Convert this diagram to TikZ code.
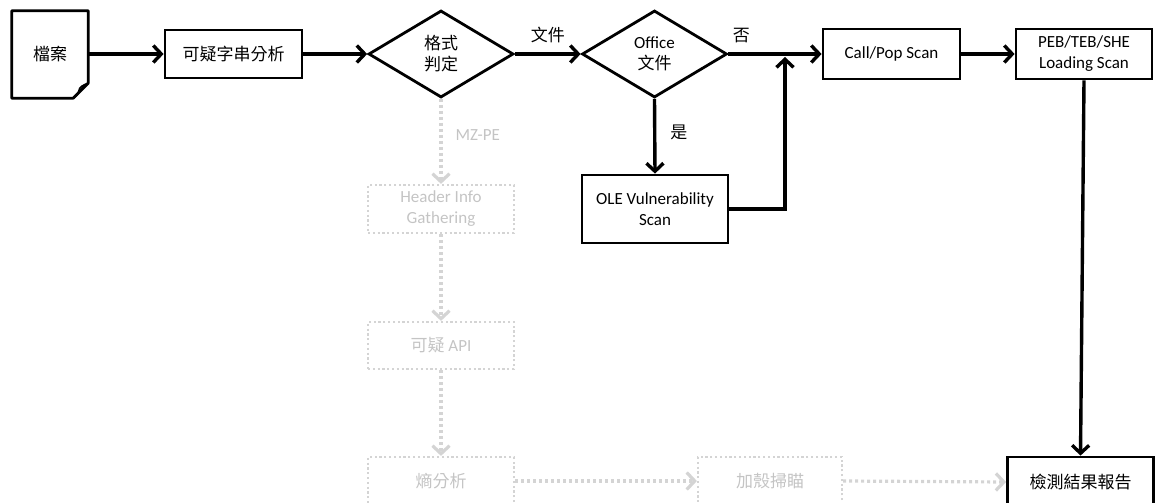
\documentclass[tikz,border=0pt]{standalone}
\usepackage{fontspec}
\setmainfont{Carlito}
\newfontfamily\cjk{Noto Sans CJK TC}
\usetikzlibrary{arrows.meta,shapes.geometric}

\definecolor{faint}{HTML}{D4D4D4}
\definecolor{fainttext}{HTML}{C4C4C4}

\tikzset{
  every node/.style={font=\fontsize{17}{21}\selectfont, align=center, inner sep=0pt},
  box/.style={draw, line width=2.8pt, rectangle},
  decision/.style={draw, line width=2.8pt, diamond, minimum width=145pt, minimum height=87pt},
  ghost/.style={draw=faint, line width=2.2pt, rectangle, dash pattern=on 2.2pt off 2.6pt, text=fainttext},
  flow/.style={line width=3.4pt, -{Straight Barb[length=8pt,width=17pt,line width=3.4pt]}},
  ghostflow/.style={draw=faint, line width=3.2pt, dash pattern=on 3pt off 3pt,
    -{Straight Barb[length=8pt,width=17pt,line width=3.2pt]}},
}

\begin{document}
\begin{tikzpicture}[x=1pt, y=-1pt]
\useasboundingbox (0,0) rectangle (1159,503);

% main path
\node (doc) [minimum width=76pt, minimum height=87pt] at (50,54.5) {\cjk 檔案};
\draw[line width=2.8pt, line join=round]
  (doc.north west) -- (doc.north east) -- ([yshift=15pt]doc.south east)
  -- ([xshift=-15pt]doc.south east) -- (doc.south west) -- cycle;
\draw[line width=1.8pt]
  ([yshift=15pt]doc.south east) .. controls ([xshift=-5pt,yshift=13pt]doc.south east)
  and ([xshift=-9pt,yshift=11pt]doc.south east) .. ([xshift=-9pt,yshift=8pt]doc.south east)
  .. controls ([xshift=-10pt,yshift=4pt]doc.south east)
  and ([xshift=-12pt,yshift=2pt]doc.south east) .. ([xshift=-15pt]doc.south east);

\node (str) [box, minimum width=137pt, minimum height=48pt] at (233.5,54) {\cjk 可疑字串分析};
\node (fmt) [decision] at (441,54) {\cjk 格式\\\cjk 判定};
\node (office) [decision] at (654.5,54) {Office\\\cjk 文件};
\node (ole) [box, minimum width=146pt, minimum height=68pt] at (655,209) {OLE Vulnerability\\Scan};
\node (call) [box, minimum width=137pt, minimum height=50pt] at (891.5,54) {Call/Pop Scan};
\node (peb) [box, minimum width=136pt, minimum height=50pt] at (1084,54) {PEB/TEB/SHE\\Loading Scan};
\node (report) [box, minimum width=146pt, minimum height=50pt] at (1080.5,482) {\cjk 檢測結果報告};

\coordinate (merge) at (785,57);

\draw[flow] (doc.east |- str.west) -- (str.west);
\draw[flow] (str.east) -- (fmt.west);
\draw[flow] (fmt.east) -- node[above=9pt] {\cjk 文件} (office.west);
\draw[flow] (office.east) -- node[pos=0.14, above=9pt] {\cjk 否} (call.west);
\draw[flow] (office.south) -- node[pos=0.45, right=14pt] {\cjk 是} (ole.north);
\draw[flow, line join=miter] (ole.east) -| (merge);
\draw[flow] (call.east) -- (peb.west);
\draw[flow] (peb.south) -- (report.north);

% faded branch
\node (hdr) [ghost, minimum width=146pt, minimum height=48pt] at (441,209) {Header Info\\Gathering};
\node (api) [ghost, minimum width=146pt, minimum height=47pt] at (441,345.5) {{\cjk 可疑} API};
\node (ent) [ghost, minimum width=146pt, minimum height=48pt] at (441,481) {\cjk 熵分析};
\node (pack) [ghost, minimum width=144pt, minimum height=48pt] at (770,481) {\cjk 加殼掃瞄};

\draw[ghostflow] (fmt.south) -- node[pos=0.42, right=13pt, text=fainttext] {MZ-PE} (hdr.north);
\draw[ghostflow] (hdr.south) -- (api.north);
\draw[ghostflow] (api.south) -- (ent.north);
\draw[ghostflow] (ent.east) -- (pack.west);
\draw[ghostflow] (pack.east) -- (report.west);
\end{tikzpicture}
\end{document}
